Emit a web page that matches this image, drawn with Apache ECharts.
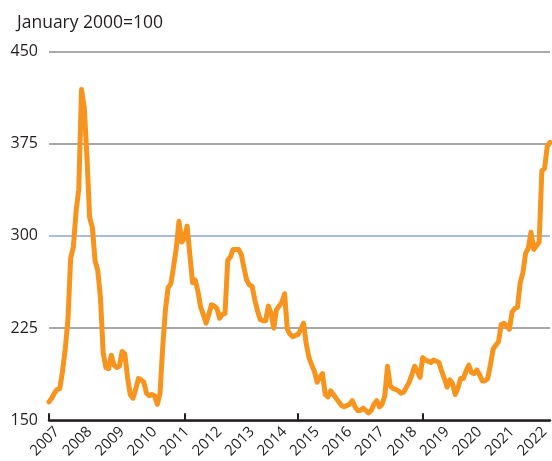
<!DOCTYPE html>
<html>
<head>
<meta charset="utf-8">
<script src="https://cdn.jsdelivr.net/npm/echarts@6/dist/echarts.min.js"></script>
<style>
  html, body { margin: 0; padding: 0; background: #fff; }
  #chart { width: 552px; height: 461px; }
</style>
</head>
<body>
<div id="chart"></div>
<script>
// monthly index, Oct 2006 .. Feb 2022 (January 2000 = 100)
var startYear = 2006
var startMonth = 10
var values2006 = [165, 168, 172]
var values2007 = [175, 176, 190, 208, 232, 282, 291, 320, 338, 419, 405, 365]
var values2008 = [315, 307, 280, 272, 250, 205, 193, 192, 203, 195, 193, 194]
var values2009 = [206, 204, 185, 171, 168, 175, 184, 183, 181, 172, 170, 171]
var values2010 = [170, 163, 172, 210, 240, 258, 261, 275, 290, 312, 295, 298]
var values2011 = [308, 285, 262, 264, 255, 242, 236, 229, 236, 244, 243, 241]
var values2012 = [233, 236, 237, 280, 283, 289, 289, 289, 285, 274, 264, 260]
var values2013 = [259, 248, 239, 232, 231, 231, 243, 237, 225, 240, 243, 246]
var values2014 = [253, 224, 220, 218, 219, 220, 224, 229, 212, 201, 195, 190]
var values2015 = [181, 185, 188, 171, 169, 174, 171, 168, 165, 162, 161, 162]
var values2016 = [163, 166, 161, 158, 158, 160, 158, 156, 158, 163, 166, 161]
var values2017 = [163, 170, 194, 178, 176, 175, 174, 172, 173, 177, 181, 187]
var values2018 = [194, 190, 185, 201, 199, 198, 197, 199, 198, 197, 190, 184]
var values2019 = [177, 183, 180, 171, 176, 184, 184, 190, 195, 189, 188, 191]
var values2020 = [187, 182, 182, 184, 195, 208, 211, 214, 228, 229, 227, 224]
var values2021 = [238, 241, 242, 262, 270, 286, 290, 303, 289, 292, 295, 353]
var values2022 = [355, 373, 376]

var yTicks = [150, 225, 300, 375, 450]
var tickIndices = [0, 50, 92, 138]

var values = [].concat(values2006, values2007, values2008, values2009, values2010,
  values2011, values2012, values2013, values2014, values2015, values2016,
  values2017, values2018, values2019, values2020, values2021, values2022)

var months = []
for (var i = 0; i < values.length; i++) {
  var m = startMonth - 1 + i
  var y = startYear + Math.floor(m / 12)
  var mm = (m % 12) + 1
  months.push(y + "-" + (mm < 10 ? "0" + mm : mm))
}

var chart = echarts.init(document.getElementById("chart"))

var textColor = "#231f20"
var font = "Open Sans"

var option = {
  animation: false,
  backgroundColor: "#fff",
  title: {
    text: "January 2000=100",
    left: 12,
    top: 9,
    textStyle: { fontFamily: font, fontSize: 17.5, fontWeight: "normal", color: textColor },
  },
  grid: { left: 49, right: 0, top: 51.5, bottom: 35.5 },
  xAxis: {
    type: "category",
    data: months,
    boundaryGap: false,
    axisLine: { lineStyle: { color: textColor, width: 2.5 } },
    axisTick: {
      inside: true,
      length: 7,
      lineStyle: { color: textColor, width: 2 },
      interval: function (idx) { return tickIndices.indexOf(idx) >= 0 },
    },
    axisLabel: {
      rotate: 45,
      margin: 9,
      fontFamily: font,
      fontSize: 15,
      color: textColor,
      interval: function (idx, val) { return val.slice(5) === "01" },
      formatter: function (val) { return val.slice(0, 4) },
    },
    splitLine: { show: false },
  },
  yAxis: {
    type: "value",
    min: yTicks[0],
    max: yTicks[yTicks.length - 1],
    interval: 75,
    axisLine: { show: false },
    axisTick: { show: false },
    axisLabel: { margin: 11, fontFamily: font, fontSize: 16, color: textColor },
    splitLine: {
      lineStyle: { color: ["#8c8c8c", "#8c8c8c", "#8aa6d6", "#8c8c8c", "#8c8c8c"], width: 1.5 },
    },
  },
  series: [
    {
      type: "line",
      data: values,
      symbol: "none",
      lineStyle: { color: "#f7941d", width: 5, cap: "round", join: "round" },
    },
  ],
}

chart.setOption(option)
</script>
</body>
</html>
